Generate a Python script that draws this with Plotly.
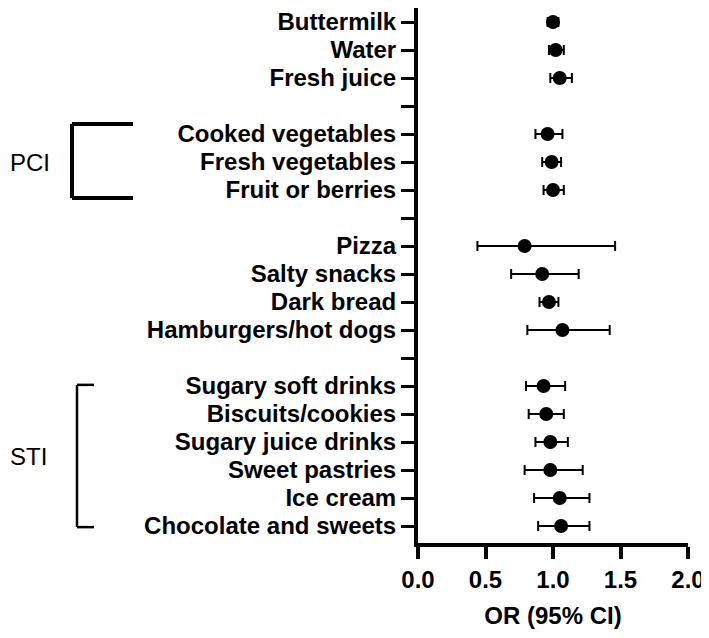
"""Forest plot of odds ratios (95% CI) for food items, grouped PCI / STI."""

import plotly.graph_objects as go

# rows top-to-bottom; empty strings are spacer rows that still carry a tick
labels = [
    "Buttermilk", "Water", "Fresh juice", "",
    "Cooked vegetables", "Fresh vegetables", "Fruit or berries", "",
    "Pizza", "Salty snacks", "Dark bread", "Hamburgers/hot dogs", "",
    "Sugary soft drinks", "Biscuits/cookies", "Sugary juice drinks",
    "Sweet pastries", "Ice cream", "Chocolate and sweets",
]
odds_ratio = [
    1.00, 1.02, 1.05, None,
    0.96, 0.99, 1.00, None,
    0.79, 0.92, 0.97, 1.07, None,
    0.93, 0.95, 0.98, 0.98, 1.05, 1.06,
]
ci_low = [
    0.96, 0.97, 0.98, None,
    0.87, 0.92, 0.93, None,
    0.44, 0.69, 0.90, 0.81, None,
    0.80, 0.82, 0.87, 0.79, 0.86, 0.89,
]
ci_high = [
    1.04, 1.08, 1.14, None,
    1.07, 1.06, 1.08, None,
    1.46, 1.19, 1.04, 1.42, None,
    1.09, 1.08, 1.11, 1.22, 1.27, 1.27,
]
x_ticks = [0.0, 0.5, 1.0, 1.5, 2.0]

FONT = "Liberation Sans, Arial, sans-serif"
# the page body has an 8px margin, so the figure is sized 8px smaller
FIG_W, FIG_H = 701, 630
PLOT_LEFT, PLOT_RIGHT = 410, 680  # pixel edges of the plot area (figure coords)


def _px_to_paper(px: float) -> float:
    return (px - PLOT_LEFT) / (PLOT_RIGHT - PLOT_LEFT)


rows = [i for i, v in enumerate(odds_ratio) if v is not None]
xs = [odds_ratio[i] for i in rows]
err_plus = [ci_high[i] - odds_ratio[i] for i in rows]
err_minus = [odds_ratio[i] - ci_low[i] for i in rows]

fig = go.Figure(
    go.Scatter(
        x=xs,
        y=rows,
        mode="markers",
        marker=dict(color="black", size=14, symbol="circle"),
        error_x=dict(
            type="data",
            symmetric=False,
            array=err_plus,
            arrayminus=err_minus,
            color="black",
            thickness=2,
            width=5,
        ),
        showlegend=False,
    )
)

# group brackets on the far left
for top, bottom, x0, x1, lw in [(3.64, 6.29, 64, 125, 4), (12.96, 18.04, 69, 86, 2.5)]:
    px0, px1 = _px_to_paper(x0), _px_to_paper(x1)
    for sx0, sx1, sy0, sy1 in [(px0, px1, top, top), (px0, px0, top, bottom), (px0, px1, bottom, bottom)]:
        fig.add_shape(type="line", xref="paper", yref="y", x0=sx0, x1=sx1, y0=sy0, y1=sy1,
                      line=dict(color="black", width=lw))

for text, yc in [("PCI", 5.0), ("STI", 15.5)]:
    fig.add_annotation(
        text=text, xref="paper", yref="y", x=_px_to_paper(0), y=yc,
        xanchor="left", yanchor="middle", showarrow=False,
        font=dict(family=FONT, size=24, color="black"),
    )

fig.update_layout(
    width=FIG_W,
    height=FIG_H,
    margin=dict(l=PLOT_LEFT, r=FIG_W - PLOT_RIGHT, t=0, b=95),
    paper_bgcolor="white",
    plot_bgcolor="white",
    font=dict(family=FONT, color="black"),
    xaxis=dict(
        range=[0, 2],
        tickvals=x_ticks,
        ticktext=[f"{v:.1f}" for v in x_ticks],
        ticks="outside",
        ticklen=12,
        tickwidth=4,
        tickcolor="black",
        showline=True,
        linewidth=4,
        linecolor="black",
        showgrid=False,
        zeroline=False,
        tickfont=dict(family=FONT, size=24, weight="bold"),
        title=dict(text="OR (95% CI)", font=dict(family=FONT, size=24, weight="bold"), standoff=16),
    ),
    yaxis=dict(
        range=[18.607, -0.5],
        tickvals=list(range(len(labels))),
        ticktext=labels,
        ticks="outside",
        ticklen=13,
        tickwidth=3,
        tickcolor="black",
        showline=True,
        linewidth=4,
        linecolor="black",
        showgrid=False,
        zeroline=False,
        tickfont=dict(family=FONT, size=24, weight="bold"),
    ),
)

fig.write_html("out.html")
